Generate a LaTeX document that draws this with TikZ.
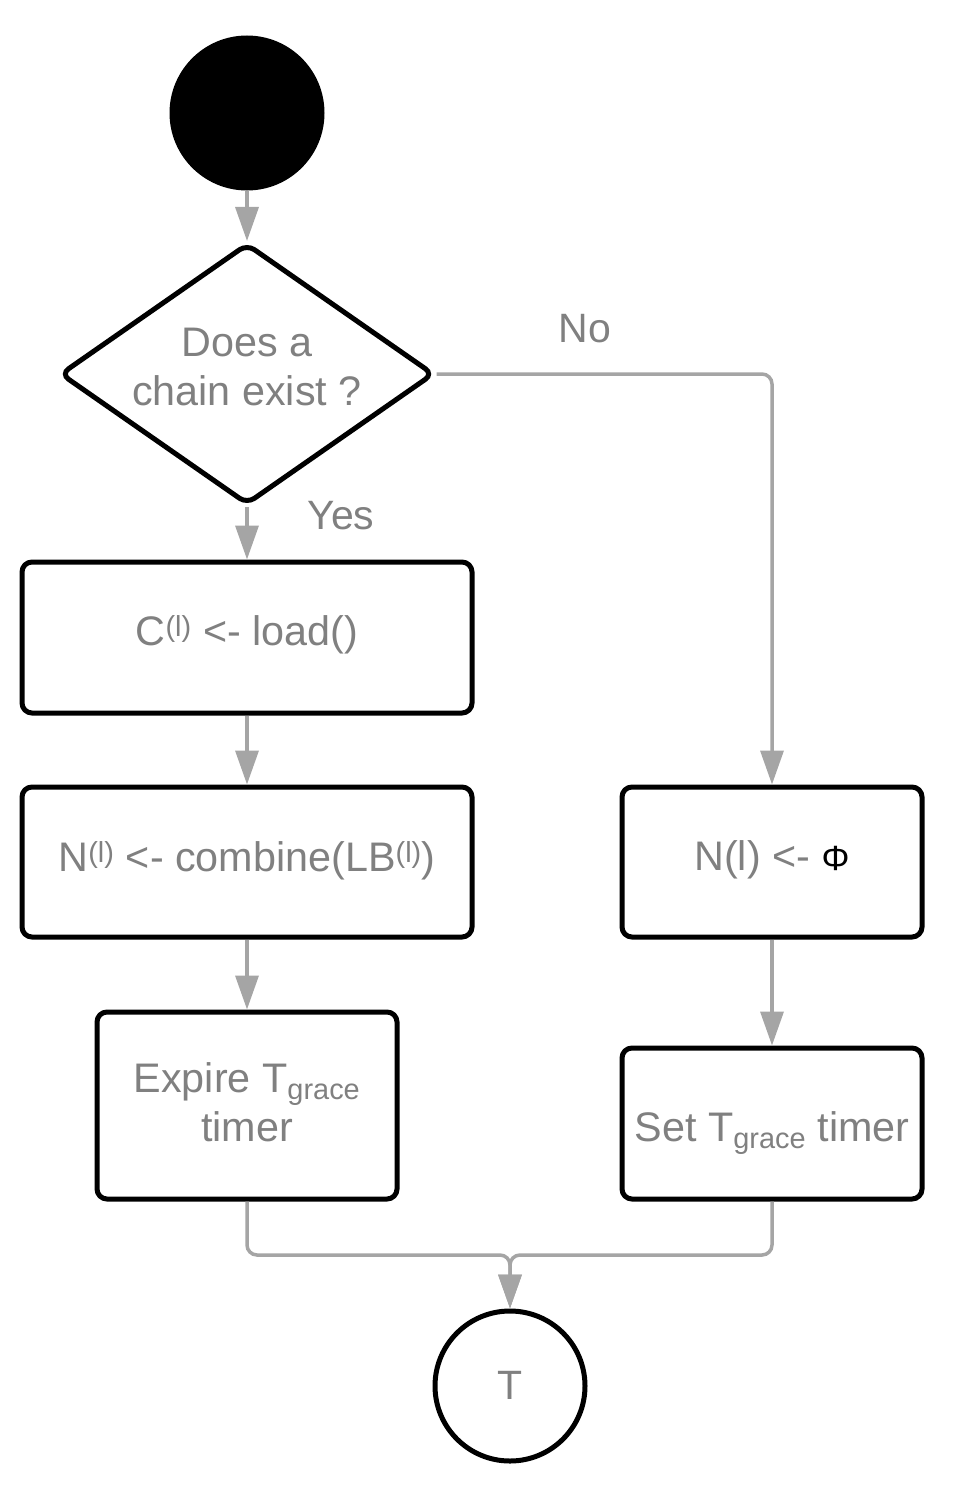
\documentclass[tikz,border=0pt]{standalone}
\usepackage{fontspec}
\setmainfont{Liberation Sans}
\usetikzlibrary{shapes.geometric,arrows.meta}
\definecolor{linegray}{HTML}{A5A5A5}
\definecolor{textgray}{HTML}{808080}
\newcommand{\lines}[1]{\begin{tabular}{@{}c@{}}#1\end{tabular}}
\newcommand{\shiftv}[2]{\raisebox{#1}[\height][\depth]{#2}}
\tikzset{
  stepbox/.style={draw=black, line width=5pt, rounded corners=10pt, fill=white,
    text=textgray, align=center, inner sep=0pt, font=\fontsize{41.3}{49.5}\selectfont},
  decbox/.style={draw=black, line width=5pt, diamond, rounded corners=9pt, fill=white,
    text=textgray, align=center, inner sep=0pt, minimum width=374pt, minimum height=261pt,
    aspect=1.43, font=\fontsize{41.3}{49.5}\selectfont},
  conn/.style={draw=linegray, line width=3.5pt, -{Triangle[length=34pt,width=23pt]}},
  lbl/.style={text=textgray, font=\fontsize{41}{49}\selectfont, inner sep=0pt}
}
\begin{document}
\begin{tikzpicture}[x=1pt,y=-1pt]
\useasboundingbox (0,0) rectangle (954,1485);
\node[circle, fill=black, minimum size=155pt, inner sep=0pt] (start) at (247,113) {};
\node[decbox] (dec) at (247,374) {\shiftv{3pt}{\lines{Does a\\chain exist ?}}};
\node[stepbox, minimum width=450pt, minimum height=151pt] (load) at (247,637.5) {\shiftv{3pt}{C\textsuperscript{(l)} <- load()}};
\node[stepbox, minimum width=450pt, minimum height=150pt] (comb) at (247,862) {\shiftv{1pt}{N\textsuperscript{(l)} <- combine(LB\textsuperscript{(l)})}};
\node[stepbox, minimum width=300pt, minimum height=187pt] (expire) at (247,1105.5) {\shiftv{-1.5pt}{\lines{Expire T\textsubscript{grace}\\timer}}};
\node[stepbox, minimum width=300pt, minimum height=150pt] (nphi) at (772,862) {\shiftv{2pt}{N(l) <- {\color{black}\fontsize{35}{35}\selectfont Φ}}};
\node[stepbox, minimum width=300pt, minimum height=151pt] (set) at (772,1123.5) {\shiftv{-10pt}{Set T\textsubscript{grace} timer}};
\node[circle, draw=black, line width=5pt, minimum size=150pt, inner sep=0pt, text=textgray,
  font=\fontsize{41}{49}\selectfont] (term) at (510,1386) {\shiftv{1pt}{T}};
\node[lbl] (no) at (585,329) {No};
\node[lbl] (yes) at (341,516) {Yes};
\coordinate (m) at (510,1255);
\draw[conn] (start) -- (dec);
\draw[conn] (dec.south) -- (load.north);
\draw[conn, rounded corners=10pt] (dec.east) -| (nphi.north);
\draw[conn] (load) -- (comb);
\draw[conn] (comb) -- (expire);
\draw[conn] (nphi) -- (set);
\draw[conn, rounded corners=10pt] (expire.south) |- (m) -- (term.north);
\draw[conn, rounded corners=10pt] (set.south) |- (m) -- (term.north);
\end{tikzpicture}
\end{document}
